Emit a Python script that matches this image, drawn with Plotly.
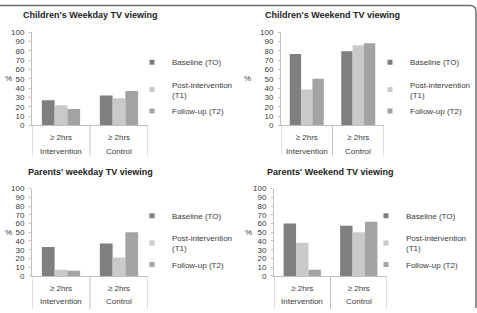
import plotly.graph_objects as go

W, H = 477, 313

# ---------------- data ----------------
categories = ["Intervention", "Control"]
tick_label = "≥ 2hrs"
series_names = ["Baseline (TO)", "Post-intervention<br>(T1)", "Follow-up (T2)"]

titles = ["Children's Weekday TV viewing", "Children's Weekend TV viewing",
          "Parents' weekday TV viewing", "Parents' Weekend TV viewing"]

children_weekday_t0 = [27, 32]
children_weekday_t1 = [21.5, 29]
children_weekday_t2 = [17.5, 37]

children_weekend_t0 = [76.5, 79.5]
children_weekend_t1 = [38.5, 86]
children_weekend_t2 = [50, 88]

parents_weekday_t0 = [33, 37]
parents_weekday_t1 = [7, 21]
parents_weekday_t2 = [6, 50]

parents_weekend_t0 = [60, 57.5]
parents_weekend_t1 = [38, 50]
parents_weekend_t2 = [7, 62]

y_ticks = list(range(0, 101, 10))

panel_values = [
    [children_weekday_t0, children_weekday_t1, children_weekday_t2],
    [children_weekend_t0, children_weekend_t1, children_weekend_t2],
    [parents_weekday_t0, parents_weekday_t1, parents_weekday_t2],
    [parents_weekend_t0, parents_weekend_t1, parents_weekend_t2],
]

# ---------------- style / layout (pixels) ----------------
series_colors = ["#7f7f7f", "#c9c9c9", "#a3a3a3"]
text_color = "#3a3a3a"
axis_color = "#bfbfbf"
FONT = "Liberation Sans, Arial, sans-serif"

# plot area: left, right, top(y=100), bottom(y=0); title y; legend x,y; percent x; separator depth
panels = [
    dict(l=32, r=148, t=29, b=125, ty=11, lx=132, ly=45, px=2.5, sep=31),
    dict(l=281, r=384, t=29, b=125, ty=11, lx=370, ly=45, px=242, sep=31),
    dict(l=32, r=148, t=190, b=280, ty=173, lx=132, ly=203, px=2.5, sep=34),
    dict(l=274, r=387, t=190, b=280, ty=173, lx=366, ly=203, px=243, sep=34),
]

fig = go.Figure()
layout = dict(
    width=W, height=H, margin=dict(l=0, r=0, t=0, b=0),
    paper_bgcolor="white", plot_bgcolor="white",
    barmode="group", bargap=0.34, bargroupgap=0,
    font=dict(family=FONT, size=8, color=text_color),
    showlegend=True,
)
annotations = []
shapes = []

for i, (p, vals) in enumerate(zip(panels, panel_values)):
    n = "" if i == 0 else str(i + 1)
    xa, ya = "x" + n, "y" + n
    leg = "legend" + n
    for j, (name, v, c) in enumerate(zip(series_names, vals, series_colors)):
        fig.add_trace(go.Bar(
            x=[0, 1], y=v, name=name, marker=dict(color=c, line=dict(width=0)),
            xaxis=xa, yaxis=ya, showlegend=False, hoverinfo="skip",
            offsetgroup=str(j),
        ))
        # legend proxy (small square like the original)
        fig.add_trace(go.Scatter(
            x=[None], y=[None], mode="markers", name=name,
            marker=dict(symbol="square", size=5, color=c),
            xaxis=xa, yaxis=ya, legend=leg, showlegend=True,
            legendgroup="a" if j == 0 else "b",
        ))
    layout["xaxis" + n] = dict(
        domain=[p["l"] / W, p["r"] / W], anchor=ya, range=[-0.5, 1.5],
        tickvals=[0, 1], ticktext=[tick_label, tick_label], ticks="",
        ticklabelstandoff=4,
        showline=True, linecolor=axis_color, linewidth=1, showgrid=False,
        zeroline=False, tickfont=dict(size=8, color=text_color), fixedrange=True,
    )
    layout["yaxis" + n] = dict(
        domain=[1 - p["b"] / H, 1 - p["t"] / H], anchor=xa, range=[0, 100],
        tickvals=y_ticks, ticks="outside", ticklen=2, tickcolor=axis_color,
        ticklabelstandoff=3,
        showline=True, linecolor=axis_color, linewidth=1, showgrid=False,
        zeroline=False, tickfont=dict(size=8, color=text_color), fixedrange=True,
    )
    layout[leg] = dict(
        x=p["lx"] / W, y=1 - p["ly"] / H, xanchor="left", yanchor="top",
        bgcolor="rgba(0,0,0,0)", font=dict(size=8, color=text_color),
        tracegroupgap=6, itemclick=False, itemdoubleclick=False,
    )
    annotations.append(dict(
        text=titles[i], xref=xa + " domain", x=0.5, yref="paper", y=1 - p["ty"] / H,
        showarrow=False, xanchor="center", yanchor="middle",
        font=dict(size=9, color="#222222", weight="bold"),
    ))
    annotations.append(dict(
        text="%", xref="paper", x=p["px"] / W, yref=ya + " domain", y=0.5,
        showarrow=False, xanchor="left", yanchor="middle", font=dict(size=8),
    ))
    ph = p["b"] - p["t"]
    for k, cat in enumerate(categories):
        annotations.append(dict(
            text=cat, xref=xa, x=k, yref=ya + " domain", y=0, yshift=-26,
            showarrow=False, xanchor="center", yanchor="middle", font=dict(size=8),
        ))
    for xv in [-0.5, 0.5, 1.5]:
        shapes.append(dict(
            type="line", xref=xa, x0=xv, x1=xv, yref=ya + " domain",
            y0=0, y1=-p["sep"] / ph, line=dict(color=axis_color, width=1),
        ))

# outer frame (top and right edge with rounded corner)
def px(x, y):
    return f"{x / W:.5f},{1 - y / H:.5f}"

shapes.append(dict(
    type="path", xref="paper", yref="paper",
    path=f"M {px(0, 1.5)} L {px(470, 1.5)} Q {px(476, 1.5)} {px(476, 7.5)} L {px(476, 313)}",
    line=dict(color="#6e6e6e", width=1.5),
))

layout["annotations"] = annotations
layout["shapes"] = shapes
fig.update_layout(**layout)
fig.write_html("out.html")
